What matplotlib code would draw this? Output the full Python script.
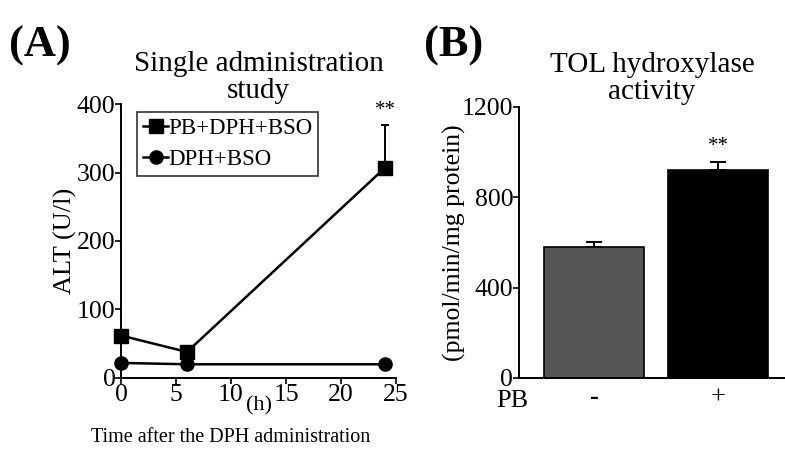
import matplotlib.pyplot as plt
from matplotlib.lines import Line2D

plt.rcParams['font.family'] = ['Liberation Serif', 'DejaVu Serif']

# panel A: ALT after single DPH administration
hours = [0, 6, 24]
alt_pb = [62, 38, 307]
alt_pb_err = [0, 0, 62]
alt_ctrl = [22, 20, 20]

# panel B: TOL hydroxylase activity
pb_labels = ['-', '+']
tol_mean = [580, 922]
tol_err = [22, 35]
bar_colors = ['#555555', '#000000']

fig = plt.figure(figsize=(7.85, 4.53), dpi=100)

# ---- (A) ----
axA = fig.add_axes([0.1541, 0.1656, 0.3504, 0.6048])
axA.errorbar(hours, alt_pb, yerr=[[0] * 3, alt_pb_err], fmt='none',
             ecolor='black', capsize=3, elinewidth=1.4, capthick=1.4,
             clip_on=False, zorder=2)
axA.plot(hours, alt_pb, color='black', lw=1.8, marker='s', ms=9.5,
         clip_on=False, zorder=3)
axA.plot(hours, alt_ctrl, color='black', lw=1.8, marker='o', ms=9.5,
         clip_on=False, zorder=3)
axA.set_xlim(0, 25)
axA.set_ylim(0, 400)
axA.set_xticks([0, 5, 10, 15, 20, 25])
axA.set_yticks([0, 100, 200, 300, 400])
for s in ['top', 'right']:
    axA.spines[s].set_visible(False)
for s in ['left', 'bottom']:
    axA.spines[s].set_linewidth(1.4)
axA.tick_params(labelsize=18.5, width=1.2, length=4, pad=0)
axA.set_ylabel('ALT (U/l)', fontsize=19, labelpad=0)
axA.set_xlabel('(h)', fontsize=16, labelpad=-7)
fig.text(231 / 785, 1 - 438 / 453, 'Time after the DPH administration',
         ha='center', va='center', fontsize=14.5)
axA.set_title('Single administration\nstudy', fontsize=21, linespacing=1.05,
              pad=4)
axA.text(24, 376, '**', ha='center', va='bottom', fontsize=15)
handles = [Line2D([], [], color='black', lw=1.8, marker='s', ms=9.5),
           Line2D([], [], color='black', lw=1.8, marker='o', ms=9.5)]
leg = axA.legend(handles, ['PB+DPH+BSO', 'DPH+BSO'], loc='upper left',
                 bbox_to_anchor=(0.06, 0.97), fontsize=16.5, frameon=True,
                 fancybox=False, handlelength=1.1, handletextpad=0.0,
                 borderpad=0.25, labelspacing=0.45, borderaxespad=0)
leg.get_frame().set_edgecolor('black')
leg.get_frame().set_linewidth(1.2)
fig.text(0.012, 0.875, '(A)', fontsize=32, fontweight='bold')

# ---- (B) ----
axB = fig.add_axes([0.661, 0.1656, 0.339, 0.5982])
xpos = list(range(len(tol_mean)))
axB.bar(xpos, tol_mean, width=0.8, color=bar_colors, edgecolor='black',
        linewidth=1.2, zorder=2)
axB.errorbar(xpos, tol_mean, yerr=[[0, 0], tol_err], fmt='none',
             ecolor='black', elinewidth=1.4, capsize=6, capthick=1.4,
             zorder=1)
axB.set_xlim(-0.605, 1.54)
axB.set_ylim(0, 1200)
axB.set_yticks([0, 400, 800, 1200])
axB.set_xticks(xpos)
axB.set_xticklabels(pb_labels)
axB.get_xticklabels()[0].set_fontweight('bold')
for s in ['top', 'right']:
    axB.spines[s].set_visible(False)
for s in ['left', 'bottom']:
    axB.spines[s].set_linewidth(1.4)
axB.tick_params(axis='y', labelsize=18.5, width=1.2, length=4, pad=0)
axB.tick_params(axis='x', labelsize=19, length=0, pad=6)
axB.set_ylabel('(pmol/min/mg protein)', fontsize=18.5, labelpad=-3)
axB.set_title('TOL hydroxylase\nactivity', fontsize=21, linespacing=1.05,
              pad=6)
axB.text(1, tol_mean[1] + tol_err[1] + 25, '**', ha='center', va='bottom',
         fontsize=15)
axB.text(0.035, -0.045, 'PB', transform=axB.transAxes, ha='right', va='top',
         fontsize=19)
fig.text(0.54, 0.875, '(B)', fontsize=32, fontweight='bold')

fig.savefig('out.png', dpi=100)
